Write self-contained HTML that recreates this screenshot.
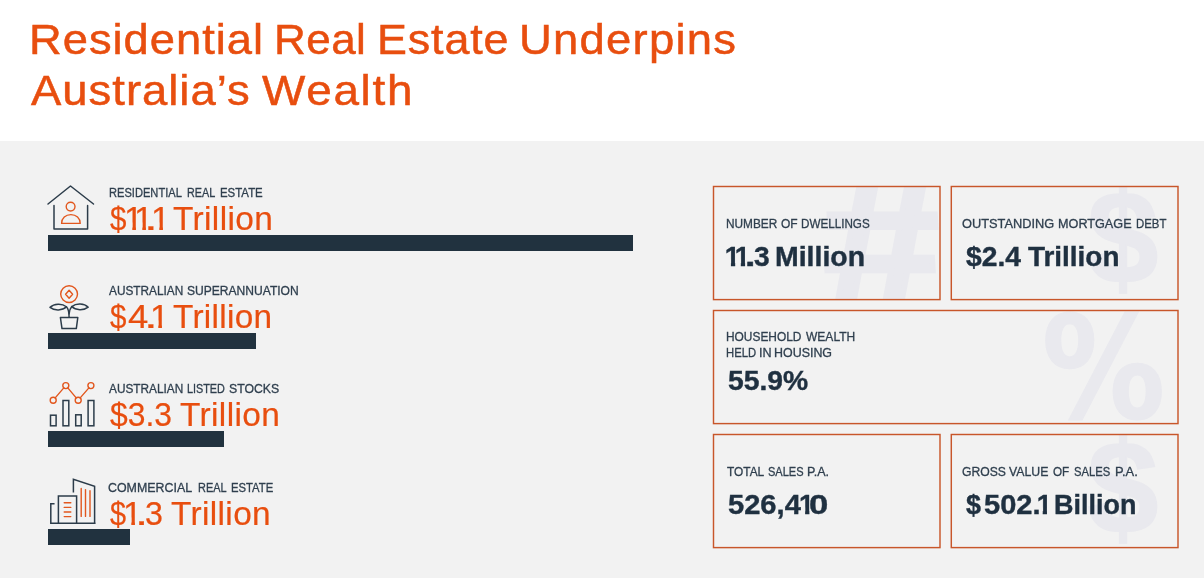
<!DOCTYPE html>
<html lang="en">
<head>
<meta charset="utf-8">
<title>Residential Real Estate Underpins Australia’s Wealth</title>
<style>
html,body{margin:0;padding:0;}
body{width:1204px;height:578px;position:relative;overflow:hidden;background:#ffffff;
  font-family:"Liberation Sans",Arial,sans-serif;}
.panel{position:absolute;left:0;top:141px;width:1204px;height:437px;background:#f2f2f2;}
h1{margin:0;padding:0;font-size:inherit;font-weight:400;}
.t{position:absolute;left:0;margin:0;white-space:pre;width:1204px;height:1.2em;will-change:transform;}
.t span{position:absolute;top:0;transform-origin:0 0;white-space:pre;display:block;}
.title{font-size:43.4px;line-height:43.4px;color:#e84e0f;font-weight:400;-webkit-text-stroke:.5px #e84e0f;}
.lbl,.clbl{font-size:12.3px;line-height:12.3px;color:#2f3f4e;font-weight:400;-webkit-text-stroke:.3px #2f3f4e;}
.val{font-size:32.6px;line-height:32.6px;color:#e84e0f;font-weight:400;-webkit-text-stroke:.2px #e84e0f;}
.cval{font-size:27.4px;line-height:27.4px;color:#1f3040;font-weight:700;-webkit-text-stroke:.4px #1f3040;}
.val .one{clip-path:polygon(0 0,.346em 0,.346em 1em,.240em 1em,.240em .6em,0 .6em);}
.cval .one{clip-path:polygon(0 0,.377em 0,.377em 1em,.222em 1em,.222em .6em,0 .6em);}
.bar{position:absolute;left:48px;height:16px;background:#21323f;}
.card{position:absolute;}
.wmclip{position:absolute;overflow:hidden;}
.frame{position:absolute;left:0;top:0;display:block;}
.wm{position:absolute;color:#e9e9ee;font-weight:700;line-height:1;white-space:pre;transform-origin:0 0;}
.ico{position:absolute;overflow:visible;}
</style>
</head>
<body>
<div class="panel"></div>

<!-- bars -->
<div class="bar" style="top:235px;width:585px"></div>
<div class="bar" style="top:333px;width:208px"></div>
<div class="bar" style="top:431px;width:176px"></div>
<div class="bar" style="top:528.6px;width:82px"></div>

<!-- cards -->
<div class="card" style="left:712px;top:185px;width:231px;height:117px">
  <div class="wmclip" style="left:2px;top:2px;width:226px;height:112px"><span class="wm" style="left:102.6px;top:-37.6px;font-size:180px;-webkit-text-stroke:5px #e9e9ee;transform:skewX(3.2deg) scale(1.175,1.024)">#</span></div>
  <svg class="frame" width="231" height="117" viewBox="0 0 231 117"><rect x="1.50" y="1.50" width="226.50" height="113.10" fill="none" stroke="#c8562a" stroke-width="1.45"/></svg>
</div>
<div class="card" style="left:950px;top:185px;width:231px;height:117px">
  <div class="wmclip" style="left:2px;top:2px;width:226px;height:112px"><span class="wm" style="left:135.2px;top:-15px;font-size:131px;-webkit-text-stroke:1.5px #e9e9ee;transform:scaleX(.98)">$</span></div>
  <svg class="frame" width="231" height="117" viewBox="0 0 231 117"><rect x="1.30" y="1.50" width="226.70" height="113.10" fill="none" stroke="#c8562a" stroke-width="1.45"/></svg>
</div>
<div class="card" style="left:712px;top:309px;width:469px;height:117px">
  <div class="wmclip" style="left:2px;top:2px;width:464px;height:112px"><span class="wm" style="left:327.7px;top:-12.7px;font-family:'DejaVu Sans',sans-serif;font-size:123.3px;-webkit-text-stroke:1px #e9e9ee;transform:scale(1,1.15)">%</span></div>
  <svg class="frame" width="469" height="117" viewBox="0 0 469 117"><rect x="1.50" y="1.50" width="464.50" height="113.10" fill="none" stroke="#c8562a" stroke-width="1.45"/></svg>
</div>
<div class="card" style="left:712px;top:433px;width:231px;height:117px">
  <div class="wmclip" style="left:2px;top:2px;width:226px;height:112px"></div>
  <svg class="frame" width="231" height="117" viewBox="0 0 231 117"><rect x="1.50" y="1.50" width="226.50" height="113.10" fill="none" stroke="#c8562a" stroke-width="1.45"/></svg>
</div>
<div class="card" style="left:950px;top:433px;width:231px;height:117px">
  <div class="wmclip" style="left:2px;top:2px;width:226px;height:112px"><span class="wm" style="left:135.2px;top:-13px;font-size:131px;-webkit-text-stroke:1.5px #e9e9ee;transform:scaleX(.98)">$</span></div>
  <svg class="frame" width="231" height="117" viewBox="0 0 231 117"><rect x="1.30" y="1.50" width="226.70" height="113.10" fill="none" stroke="#c8562a" stroke-width="1.45"/></svg>
</div>

<!-- icons -->
<svg class="ico" style="left:40px;top:175px" width="70" height="70" viewBox="40 175 70 70" fill="none" stroke-linecap="round" stroke-linejoin="round">
  <g stroke="#2c3c4a" stroke-width="1.5">
    <path d="M48 204 L70.5 186 L93.5 204"/>
    <path d="M54 205.5 V229 H87.6 V205.5"/>
  </g>
  <g stroke="#e2571e" stroke-width="1.4">
    <circle cx="70.6" cy="206.6" r="4.4"/>
    <path d="M61.6 223.4 C61.6 218 65.6 214.6 70.9 214.6 C76.2 214.6 80.2 218 80.2 223.4 Z"/>
  </g>
</svg>

<svg class="ico" style="left:40px;top:275px" width="70" height="70" viewBox="40 275 70 70" fill="none" stroke-linecap="round" stroke-linejoin="round">
  <g stroke="#e2571e" stroke-width="1.4">
    <circle cx="69.1" cy="294.1" r="8.4"/>
    <path d="M69.1 290.2 L72.6 294.2 L69.1 298.2 L65.6 294.2 Z"/>
  </g>
  <g stroke="#2c3c4a" stroke-width="1.5">
    <path d="M50 307.4 C54 303.4 62 303 66.4 306.8 C62.5 310.8 54.5 311 50 307.4 Z"/>
    <path d="M88.2 307.2 C84.2 303.2 76.2 303 71.8 306.6 C75.7 310.6 83.7 310.8 88.2 307.2 Z"/>
    <path d="M66.4 306.8 C68.6 309 69.1 312 69.1 317.2"/>
    <path d="M71.8 306.6 C69.8 308.8 69.2 311.5 69.1 314"/>
    <path d="M60.4 317.5 H77.8 L76.3 328.6 H62 Z"/>
  </g>
</svg>

<svg class="ico" style="left:40px;top:373px" width="70" height="70" viewBox="40 373 70 70" fill="none" stroke-linecap="round" stroke-linejoin="round">
  <g stroke="#2c3c4a" stroke-width="1.5" stroke-linejoin="miter" stroke-linecap="square">
    <rect x="50.5" y="415.2" width="5.6" height="10.6"/>
    <rect x="63" y="400.5" width="5.8" height="25.3"/>
    <rect x="75.7" y="414.8" width="5.5" height="11"/>
    <rect x="88.1" y="400.5" width="5.8" height="25.3"/>
  </g>
  <g stroke="#e2571e" stroke-width="1.4">
    <circle cx="53.2" cy="400.2" r="3"/>
    <circle cx="65.8" cy="385.6" r="3"/>
    <circle cx="78.2" cy="400.2" r="3"/>
    <circle cx="90.9" cy="385.6" r="3"/>
    <path d="M55.2 397.9 L63.8 387.9 M67.8 387.9 L76.2 397.9 M80.2 397.9 L88.9 387.9"/>
  </g>
</svg>

<svg class="ico" style="left:40px;top:470px" width="70" height="70" viewBox="40 470 70 70" fill="none" stroke-linecap="round" stroke-linejoin="round">
  <g stroke="#2c3c4a" stroke-width="1.5" stroke-linejoin="miter" stroke-linecap="square">
    <path d="M73.4 491.8 V479.2 L94.6 486.4 V523.2"/>
    <path d="M53.8 503.8 H50.8 V523.2 H94.6"/>
    <path d="M58.4 523.2 V496 H76.6 V523.2"/>
  </g>
  <g stroke="#e2571e" stroke-width="1.4">
    <path d="M64.2 502.8 H70.8 M64.2 507.4 H70.8 M64.2 512 H70.8 M64.2 516.6 H70.8"/>
    <path d="M81.2 488.4 V516.4 M85.5 489.6 V516.4 M90 490.8 V516.4"/>
  </g>
</svg>

<!-- text -->
<h1>
<span class="t title" style="top:17.60px"><span style="left:28.88px;letter-spacing:0.958px;transform:scaleX(1.0440)">Residential</span> <span style="left:274.09px;letter-spacing:0.418px;transform:scaleX(1.0149)">Real</span> <span style="left:376.72px;letter-spacing:0.825px;transform:scaleX(1.0339)">Estate</span> <span style="left:518.59px;letter-spacing:1.187px;transform:scaleX(1.0469)">Underpins</span></span>
<span class="t title" style="top:68.60px"><span style="left:30.91px;letter-spacing:0.962px;transform:scaleX(1.0464)">Australia’s</span> <span style="left:261.80px;letter-spacing:1.602px;transform:scaleX(1.0575)">Wealth</span></span>
</h1>
<div class="t lbl" style="top:187.15px"><span style="left:108.89px;transform:scaleX(0.9036)">RESIDENTIAL</span> <span style="left:187.11px;transform:scaleX(0.8791)">REAL</span> <span style="left:220.06px;transform:scaleX(0.9285)">ESTATE</span></div>
<div class="t lbl" style="top:285.15px"><span style="left:109.28px;transform:scaleX(0.9618)">AUSTRALIAN</span> <span style="left:187.15px;transform:scaleX(0.9810)">SUPERANNUATION</span></div>
<div class="t lbl" style="top:383.15px"><span style="left:109.28px;transform:scaleX(0.9618)">AUSTRALIAN</span> <span style="left:186.81px;transform:scaleX(0.8803)">LISTED</span> <span style="left:228.84px;transform:scaleX(0.9974)">STOCKS</span></div>
<div class="t lbl" style="top:482.15px"><span style="left:108.17px;transform:scaleX(1.0092)">COMMERCIAL</span> <span style="left:197.80px;transform:scaleX(0.8888)">REAL</span> <span style="left:230.97px;transform:scaleX(0.9173)">ESTATE</span></div>
<div class="t val" style="top:202.50px"><span style="left:109.98px;transform:scaleX(0.9041)">$</span><span class="one" style="left:123.76px;transform:scaleX(1.06)">1</span><span class="one" style="left:133.76px;transform:scaleX(1.06)">1</span><span style="left:144.39px;transform:scaleX(1.5140)">.</span><span class="one" style="left:150.56px;transform:scaleX(1.06)">1</span> <span style="left:172.65px;letter-spacing:0.361px;transform:scaleX(1.0268)">Trillion</span></div>
<div class="t val" style="top:300.50px"><span style="left:109.98px;transform:scaleX(0.9041)">$</span><span style="left:128.46px;transform:scaleX(1.1201)">4</span><span style="left:144.39px;transform:scaleX(1.5140)">.</span><span class="one" style="left:149.86px;transform:scaleX(1.06)">1</span> <span style="left:172.95px;letter-spacing:0.311px;transform:scaleX(1.0231)">Trillion</span></div>
<div class="t val" style="top:398.50px"><span style="left:109.66px;transform:scaleX(0.9778)">$3.3</span> <span style="left:179.75px;letter-spacing:0.354px;transform:scaleX(1.0263)">Trillion</span></div>
<div class="t val" style="top:497.50px"><span style="left:109.59px;transform:scaleX(0.8867)">$</span><span class="one" style="left:123.46px;transform:scaleX(1.06)">1</span><span style="left:134.59px;transform:scaleX(1.4496)">.</span><span style="left:144.57px;transform:scaleX(0.9899)">3</span> <span style="left:171.45px;letter-spacing:0.347px;transform:scaleX(1.0257)">Trillion</span></div>
<div class="t clbl" style="top:218.15px"><span style="left:725.63px;transform:scaleX(0.9628)">NUMBER</span> <span style="left:780.53px;transform:scaleX(0.9747)">OF</span> <span style="left:800.84px;transform:scaleX(0.9481)">DWELLINGS</span></div>
<div class="t clbl" style="top:218.15px"><span style="left:961.99px;transform:scaleX(1.0413)">OUTSTANDING</span> <span style="left:1057.96px;transform:scaleX(1.0287)">MORTGAGE</span> <span style="left:1136.27px;transform:scaleX(0.9266)">DEBT</span></div>
<div class="t clbl" style="top:331.15px"><span style="left:725.62px;transform:scaleX(0.9683)">HOUSEHOLD</span> <span style="left:805.95px;transform:scaleX(0.9780)">WEALTH</span></div>
<div class="t clbl" style="top:347.15px"><span style="left:725.68px;transform:scaleX(0.9163)">HELD</span> <span style="left:759.14px;transform:scaleX(1.0234)">IN</span> <span style="left:774.28px;transform:scaleX(1.0112)">HOUSING</span></div>
<div class="t clbl" style="top:466.15px"><span style="left:726.63px;transform:scaleX(0.9651)">TOTAL</span> <span style="left:768.10px;transform:scaleX(0.8979)">SALES</span> <span style="left:807.17px;transform:scaleX(1.0192)">P.A.</span></div>
<div class="t clbl" style="top:466.15px"><span style="left:961.99px;transform:scaleX(0.9898)">GROSS</span> <span style="left:1009.35px;transform:scaleX(0.9990)">VALUE</span> <span style="left:1053.15px;transform:scaleX(0.9497)">OF</span> <span style="left:1074.49px;transform:scaleX(0.9135)">SALES</span> <span style="left:1114.74px;transform:scaleX(1.0499)">P.A.</span></div>
<div class="t cval" style="top:243.10px"><span class="one" style="left:724.85px;transform:scaleX(1.0)">1</span><span class="one" style="left:734.75px;transform:scaleX(1.0)">1</span><span style="left:745.35px;transform:scaleX(1.3706)">.</span><span style="left:754.25px;transform:scaleX(1.0279)">3</span> <span style="left:774.70px;transform:scaleX(1.0383)">Million</span></div>
<div class="t cval" style="top:243.10px"><span style="left:965.83px;transform:scaleX(1.0299)">$2.4</span> <span style="left:1028.29px;transform:scaleX(1.0182)">Trillion</span></div>
<div class="t cval" style="top:367.10px"><span style="left:727.83px;transform:scaleX(1.0325)">55.9%</span></div>
<div class="t cval" style="top:491.10px"><span style="left:728.10px;transform:scaleX(1.0625)">526,4</span><span class="one" style="left:799.05px;transform:scaleX(1.0)">1</span><span style="left:809.33px;transform:scaleX(1.2662)">0</span></div>
<div class="t cval" style="top:491.10px"><span style="left:965.65px;transform:scaleX(0.9800)">$</span><span style="left:983.61px;transform:scaleX(1.0593)">502.</span><span class="one" style="left:1036.65px;transform:scaleX(1.0)">1</span> <span style="left:1053.90px;transform:scaleX(0.9840)">Billion</span></div>
</body>
</html>
